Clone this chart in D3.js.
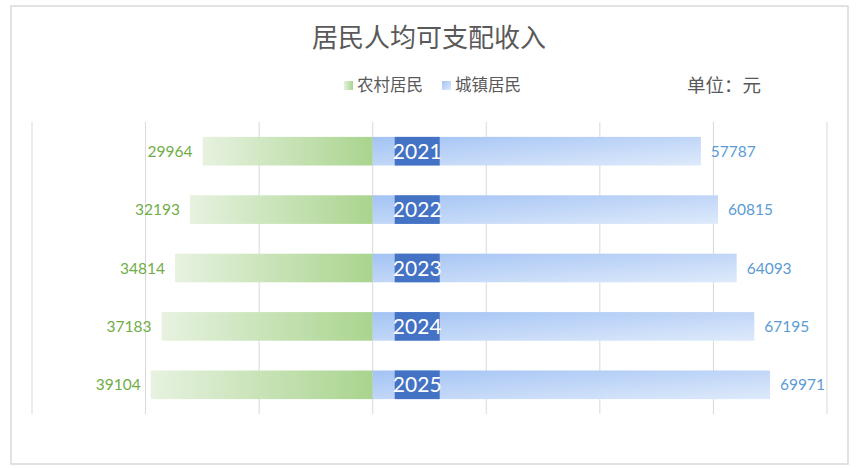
<!DOCTYPE html>
<html>
<head>
<meta charset="utf-8">
<script src="https://cdn.jsdelivr.net/npm/d3@7"></script>
<style>
    body { margin: 0; background: #fff; }
    svg { display: block; }
</style>
</head>
<body>
<div id="chart"></div>
<script>
"use strict";

// data
const years = ["2021", "2022", "2023", "2024", "2025"];
const rural = [29964, 32193, 34814, 37183, 39104];
const urban = [57787, 60815, 64093, 67195, 69971];
const seriesNames = ["农村居民", "城镇居民"];
const gridTicks = [-60000, -40000, -20000, 0, 20000, 40000, 60000, 80000];

const W = 856, H = 468;
const CJK = "'Noto Sans CJK SC', 'Noto Sans', sans-serif";
const NUM = "Lato, 'Noto Sans', sans-serif";

const svg = d3.select("#chart").append("svg")
    .attr("width", W)
    .attr("height", H);

const defs = svg.append("defs");

const ruralGrad = defs.append("linearGradient")
    .attr("id", "grad-rural")
    .attr("x1", 0).attr("y1", 0).attr("x2", 1).attr("y2", 0);
ruralGrad.append("stop").attr("offset", "0%").attr("stop-color", "#e7f2e0");
ruralGrad.append("stop").attr("offset", "100%").attr("stop-color", "#a9d48e");

const urbanGrad = defs.append("linearGradient")
    .attr("id", "grad-urban")
    .attr("x1", 0).attr("y1", 0).attr("x2", 1).attr("y2", 1);
urbanGrad.append("stop").attr("offset", "0%").attr("stop-color", "#a3c3f4");
urbanGrad.append("stop").attr("offset", "100%").attr("stop-color", "#deeafb");

// outer frame
svg.append("rect")
    .attr("x", 11).attr("y", 6)
    .attr("width", 837).attr("height", 458)
    .attr("fill", "#fff")
    .attr("stroke", "#d9d9d9")
    .attr("stroke-width", 1.5);

// title
svg.append("text")
    .attr("x", 429).attr("y", 47)
    .attr("text-anchor", "middle")
    .attr("font-family", CJK)
    .attr("font-size", 26)
    .attr("fill", "#595959")
    .text("居民人均可支配收入");

// legend
const legend = [
    { name: seriesNames[0], fill: "url(#grad-rural)", x: 344 },
    { name: seriesNames[1], fill: "url(#grad-urban)", x: 442 }
];
const lg = svg.append("g").selectAll("g").data(legend).join("g")
    .attr("transform", (d) => `translate(${d.x},81)`);
lg.append("rect")
    .attr("width", 9).attr("height", 9)
    .attr("fill", (d) => d.fill);
lg.append("text")
    .attr("x", 13).attr("y", 9.5)
    .attr("font-family", CJK)
    .attr("font-size", 16.5)
    .attr("fill", "#595959")
    .text((d) => d.name);

svg.append("text")
    .attr("x", 687).attr("y", 92)
    .attr("font-family", CJK)
    .attr("font-size", 18.5)
    .attr("fill", "#595959")
    .text("单位：元");

// scales
const x = d3.scaleLinear().domain([-60000, 80000]).range([32, 827]);
const y = d3.scaleBand().domain(years).range([122, 414]).paddingInner(0.51).paddingOuter(0.255);

// gridlines
svg.append("g").selectAll("line").data(gridTicks).join("line")
    .attr("x1", (d) => x(d)).attr("x2", (d) => x(d))
    .attr("y1", 122).attr("y2", 414)
    .attr("stroke", "#d9d9d9")
    .attr("stroke-width", 1);

const rows = svg.append("g").selectAll("g").data(years).join("g");

// rural bars (left)
rows.append("rect")
    .attr("x", (d, i) => x(-rural[i]))
    .attr("y", (d) => y(d))
    .attr("width", (d, i) => x(0) - x(-rural[i]))
    .attr("height", y.bandwidth())
    .attr("fill", "url(#grad-rural)");

// urban bars (right)
rows.append("rect")
    .attr("x", x(0))
    .attr("y", (d) => y(d))
    .attr("width", (d, i) => x(urban[i]) - x(0))
    .attr("height", y.bandwidth())
    .attr("fill", "url(#grad-urban)");

// year label boxes
rows.append("rect")
    .attr("x", x(0) + 22)
    .attr("y", (d) => y(d))
    .attr("width", 45)
    .attr("height", y.bandwidth())
    .attr("fill", "#4472c4");
rows.append("text")
    .attr("x", x(0) + 44.5)
    .attr("y", (d) => y(d) + y.bandwidth() / 2)
    .attr("dy", "0.36em")
    .attr("text-anchor", "middle")
    .attr("font-family", NUM)
    .attr("font-size", 21)
    .attr("fill", "#fff")
    .text((d) => d);

// value labels
rows.append("text")
    .attr("x", (d, i) => x(-rural[i]) - 10)
    .attr("y", (d) => y(d) + y.bandwidth() / 2)
    .attr("dy", "0.36em")
    .attr("text-anchor", "end")
    .attr("font-family", NUM)
    .attr("font-size", 15.5)
    .attr("fill", "#70ad47")
    .text((d, i) => rural[i]);

rows.append("text")
    .attr("x", (d, i) => x(urban[i]) + 10)
    .attr("y", (d) => y(d) + y.bandwidth() / 2)
    .attr("dy", "0.36em")
    .attr("text-anchor", "start")
    .attr("font-family", NUM)
    .attr("font-size", 15.5)
    .attr("fill", "#5b9bd5")
    .text((d, i) => urban[i]);
</script>
</body>
</html>
